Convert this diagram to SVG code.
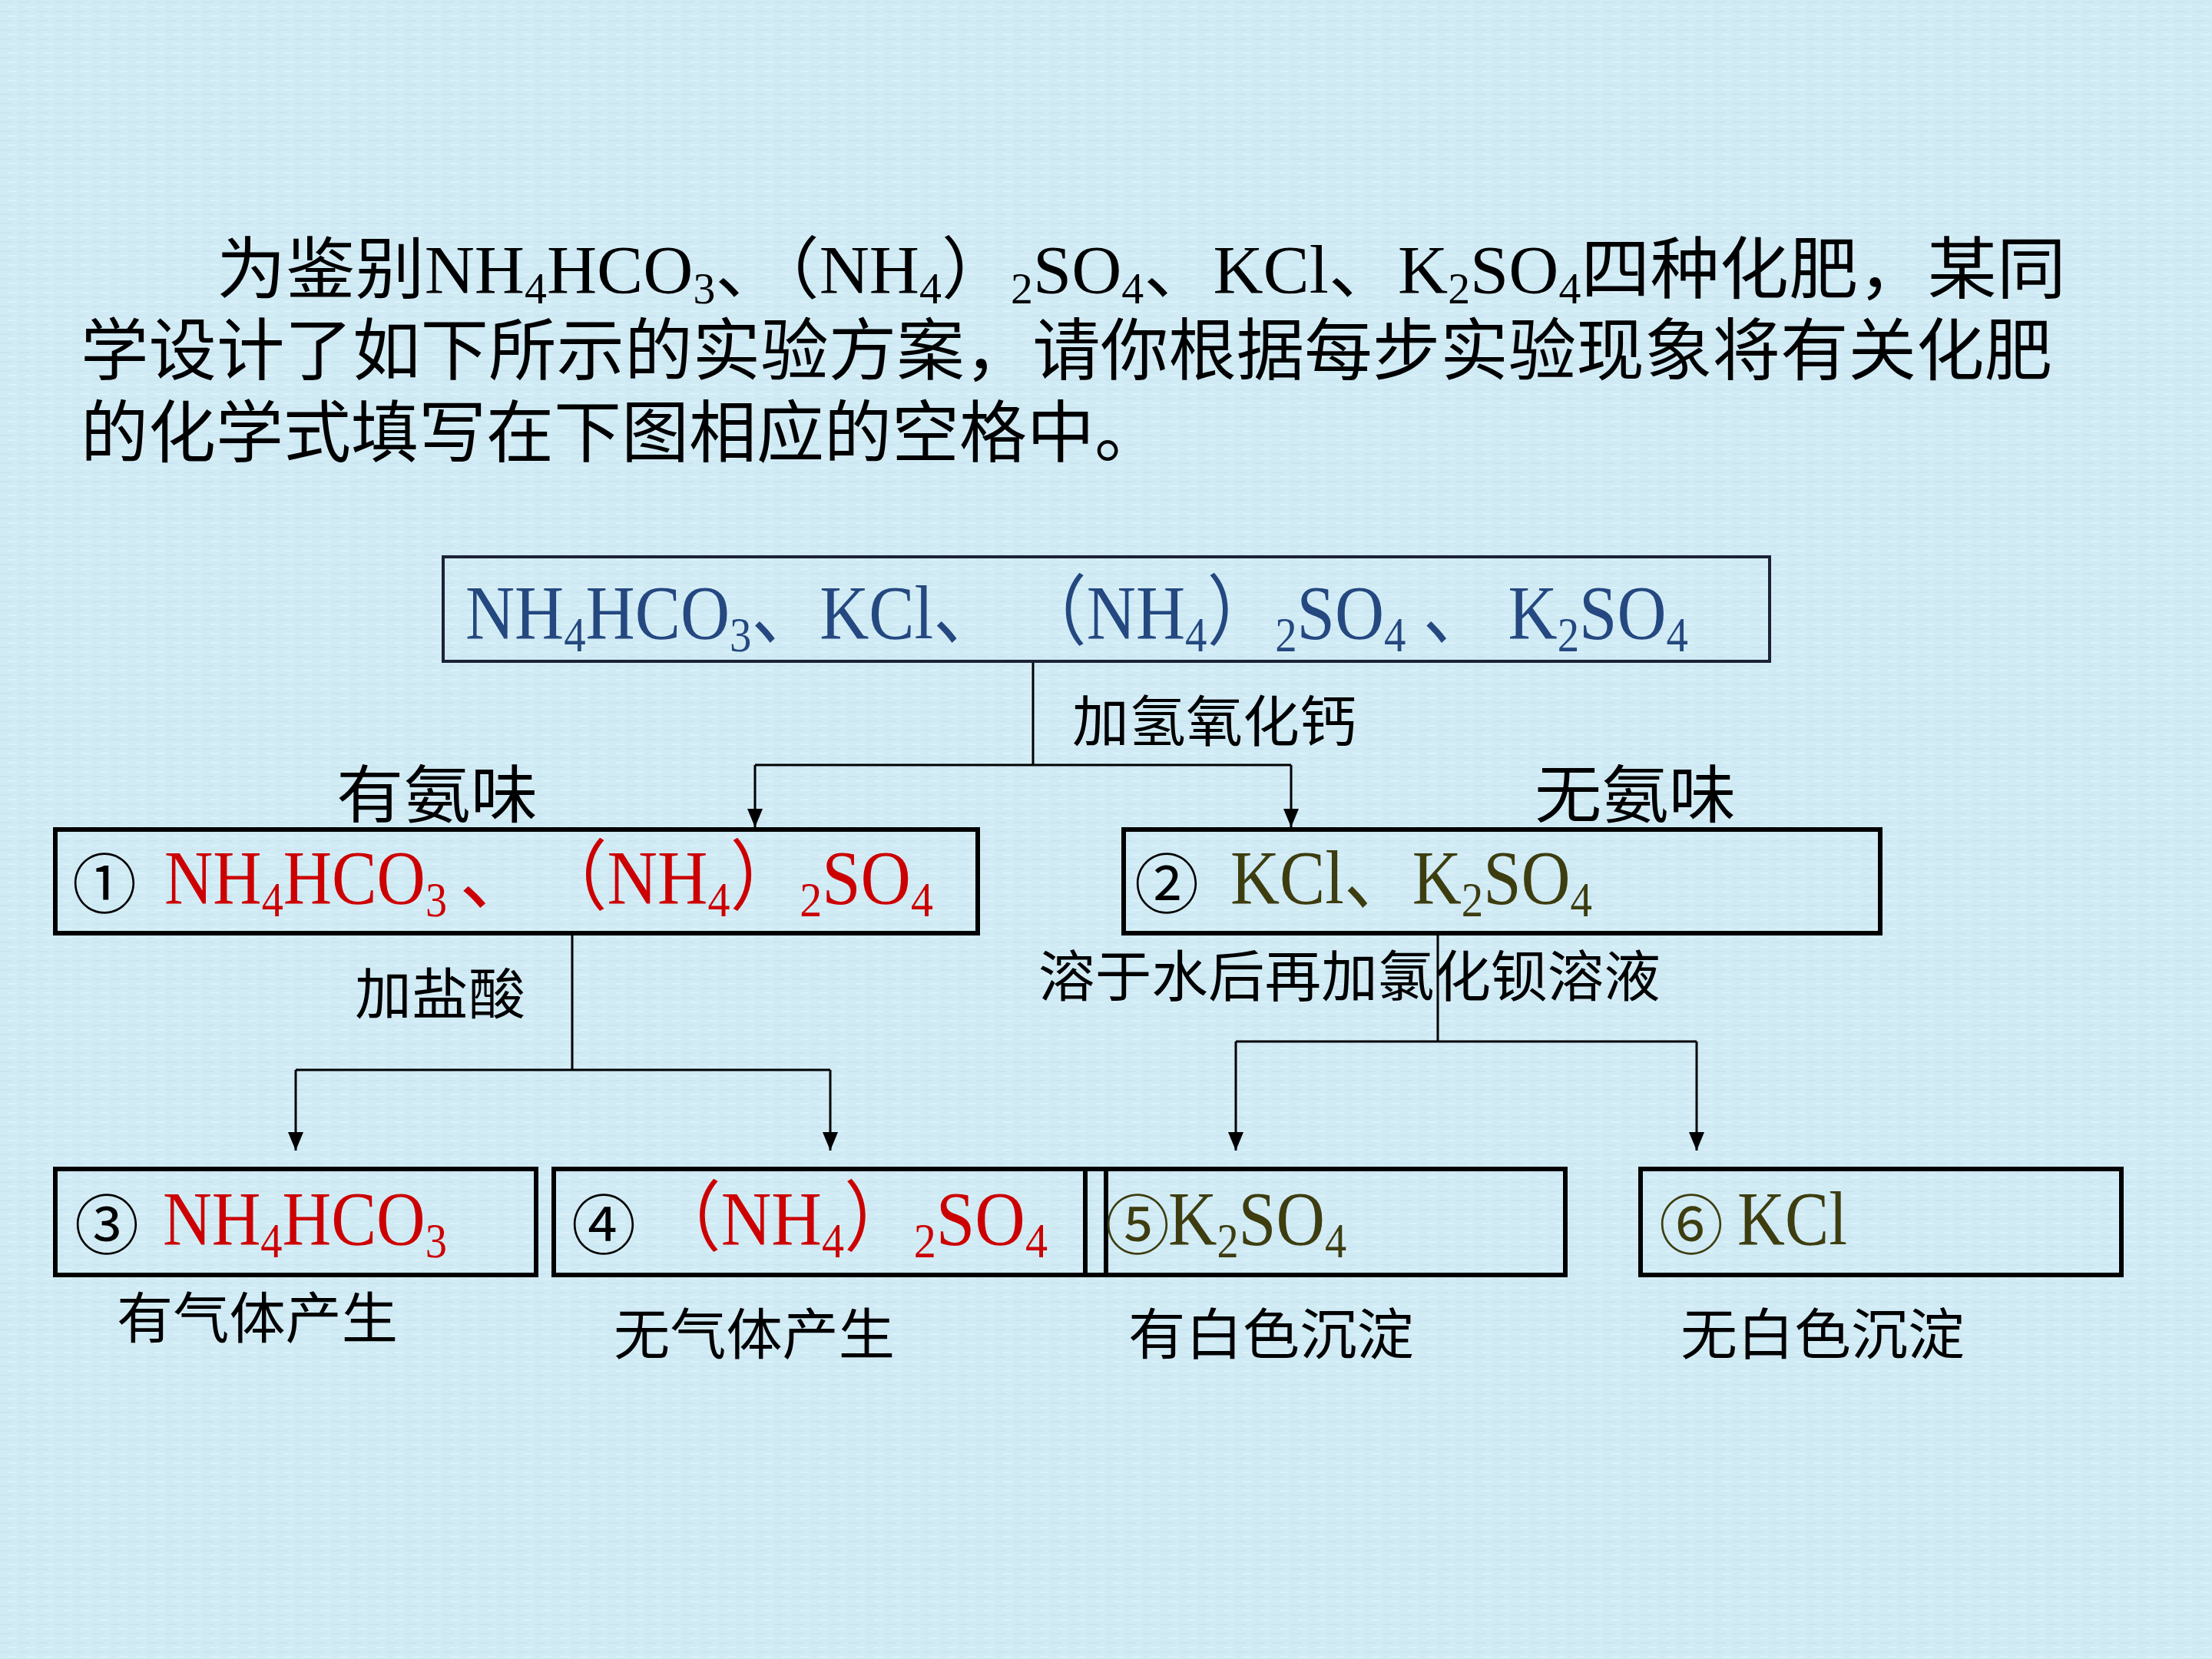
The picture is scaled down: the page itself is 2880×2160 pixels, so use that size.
<svg xmlns="http://www.w3.org/2000/svg" width="2880" height="2160" viewBox="0 0 2880 2160">
  <defs>
    <pattern id="tex" width="24" height="12" patternUnits="userSpaceOnUse">
      <rect width="24" height="12" fill="#D1EBF5"/>
      <rect x="0" y="2" width="14" height="2" fill="#C4E1EE" opacity="0.6"/>
      <rect x="10" y="8" width="12" height="2" fill="#DCF2FA" opacity="0.8"/>
    </pattern>
    <marker id="arr" viewBox="0 0 24 20" refX="24" refY="10" markerWidth="24" markerHeight="20" markerUnits="userSpaceOnUse" orient="auto">
      <path d="M0,0 L24,10 L0,20 z" fill="#000"/>
    </marker>
  </defs>
  <style>
    text { font-family: "Liberation Serif", "Noto Sans CJK SC", serif; }
    .intro { font-size: 88px; fill: #000; }
    .lbl { font-size: 72px; fill: #000; }
    .big { font-size: 82px; fill: #000; }
    .f { font-size: 100px; }
    .navy { fill: #24487F; }
    .red { fill: #CC0000; }
    .olive { fill: #3D3D10; }
    .circ { font-size: 84px; font-family: "Noto Sans CJK SC", "DejaVu Sans", sans-serif; }
    .box { fill: none; stroke: #000; stroke-width: 6; }
    .box0 { fill: none; stroke: #1B2236; stroke-width: 4; }
    .ln { fill: none; stroke: #000; stroke-width: 3; }
    .s { font-size: 64%; }
  </style>
  <rect width="2880" height="2160" fill="url(#tex)"/>

  <g id="intro">
    <text class="intro" x="282" y="381" textLength="2408" lengthAdjust="spacingAndGlyphs">为鉴别NH<tspan class="s" dy="14">4</tspan><tspan dy="-14">HCO</tspan><tspan class="s" dy="14">3</tspan><tspan dy="-14">、（NH</tspan><tspan class="s" dy="14">4</tspan><tspan dy="-14">）</tspan><tspan class="s" dy="14">2</tspan><tspan dy="-14">SO</tspan><tspan class="s" dy="14">4</tspan><tspan dy="-14">、KCl、K</tspan><tspan class="s" dy="14">2</tspan><tspan dy="-14">SO</tspan><tspan class="s" dy="14">4</tspan><tspan dy="-14">四种化肥，某同</tspan></text>
    <text class="intro" x="105" y="487" textLength="2567" lengthAdjust="spacingAndGlyphs">学设计了如下所示的实验方案，请你根据每步实验现象将有关化肥</text>
    <text class="intro" x="105" y="594">的化学式填写在下图相应的空格中。</text>
  </g>

  <g id="connectors">
    <path class="ln" d="M1345,861 V996 M983,996 H1681"/>
    <path class="ln" d="M983,996 V1077" marker-end="url(#arr)"/>
    <path class="ln" d="M1681,996 V1077" marker-end="url(#arr)"/>
    <path class="ln" d="M745,1215 V1393 M385,1393 H1081"/>
    <path class="ln" d="M385,1393 V1498" marker-end="url(#arr)"/>
    <path class="ln" d="M1081,1393 V1498" marker-end="url(#arr)"/>
    <path class="ln" d="M1872,1215 V1356 M1609,1356 H2209"/>
    <path class="ln" d="M1609,1356 V1498" marker-end="url(#arr)"/>
    <path class="ln" d="M2209,1356 V1498" marker-end="url(#arr)"/>
  </g>

  <g id="node-top">
    <rect class="box0" x="577" y="725" width="1727" height="136"/>
    <text class="f navy" x="606" y="831" textLength="1592" lengthAdjust="spacingAndGlyphs">NH<tspan class="s" dy="17">4</tspan><tspan dy="-17">HCO</tspan><tspan class="s" dy="17">3</tspan><tspan dy="-17">、KCl、 （NH</tspan><tspan class="s" dy="17">4</tspan><tspan dy="-17">）</tspan><tspan class="s" dy="17">2</tspan><tspan dy="-17">SO</tspan><tspan class="s" dy="17">4</tspan><tspan dy="-17"> 、 K</tspan><tspan class="s" dy="17">2</tspan><tspan dy="-17">SO</tspan><tspan class="s" dy="17">4</tspan></text>
  </g>

  <g id="label-ca">
    <text class="lbl" x="1396" y="965" textLength="370" lengthAdjust="spacingAndGlyphs">加氢氧化钙</text>
  </g>
  <g id="label-smell-yes">
    <text class="big" x="438" y="1064" textLength="262" lengthAdjust="spacingAndGlyphs">有氨味</text>
  </g>
  <g id="label-smell-no">
    <text class="big" x="1998" y="1064" textLength="262" lengthAdjust="spacingAndGlyphs">无氨味</text>
  </g>

  <g id="node-1">
    <rect class="box" x="72" y="1080" width="1201" height="135"/>
    <text class="circ" x="136" y="1182" text-anchor="middle" fill="#000">①</text>
    <text class="f red" x="214" y="1176" textLength="368" lengthAdjust="spacingAndGlyphs">NH<tspan class="s" dy="17">4</tspan><tspan dy="-17">HCO</tspan><tspan class="s" dy="17">3</tspan></text>
    <text class="f red" x="598" y="1176">、</text>
    <text class="f red" x="700" y="1176" textLength="515" lengthAdjust="spacingAndGlyphs">（NH<tspan class="s" dy="17">4</tspan><tspan dy="-17">）</tspan><tspan class="s" dy="17">2</tspan><tspan dy="-17">SO</tspan><tspan class="s" dy="17">4</tspan></text>
  </g>

  <g id="node-2">
    <rect class="box" x="1463" y="1080" width="985" height="135"/>
    <text class="circ" x="1519" y="1182" text-anchor="middle" fill="#000">②</text>
    <text class="f olive" x="1602" y="1176" textLength="471" lengthAdjust="spacingAndGlyphs">KCl、K<tspan class="s" dy="17">2</tspan><tspan dy="-17">SO</tspan><tspan class="s" dy="17">4</tspan></text>
  </g>

  <g id="label-hcl">
    <text class="lbl" x="462" y="1320" textLength="222" lengthAdjust="spacingAndGlyphs">加盐酸</text>
  </g>
  <g id="label-bacl2">
    <text class="lbl" x="1352" y="1297" textLength="810" lengthAdjust="spacingAndGlyphs">溶于水后再加氯化钡溶液</text>
  </g>

  <g id="node-3">
    <rect class="box" x="72" y="1522" width="626" height="138"/>
    <text class="circ" x="139" y="1626" text-anchor="middle" fill="#000">③</text>
    <text class="f red" x="212" y="1620" textLength="370" lengthAdjust="spacingAndGlyphs">NH<tspan class="s" dy="17">4</tspan><tspan dy="-17">HCO</tspan><tspan class="s" dy="17">3</tspan></text>
  </g>
  <g id="node-4">
    <rect class="box" x="721" y="1522" width="719" height="138"/>
    <text class="circ" x="786" y="1626" text-anchor="middle" fill="#000">④</text>
    <text class="f red" x="848" y="1620" textLength="516" lengthAdjust="spacingAndGlyphs">（NH<tspan class="s" dy="17">4</tspan><tspan dy="-17">）</tspan><tspan class="s" dy="17">2</tspan><tspan dy="-17">SO</tspan><tspan class="s" dy="17">4</tspan></text>
  </g>
  <g id="node-5">
    <rect class="box" x="1413" y="1522" width="625" height="138"/>
    <text class="circ olive" x="1481" y="1626" text-anchor="middle">⑤</text>
    <text class="f olive" x="1521" y="1620" textLength="232" lengthAdjust="spacingAndGlyphs">K<tspan class="s" dy="17">2</tspan><tspan dy="-17">SO</tspan><tspan class="s" dy="17">4</tspan></text>
  </g>
  <g id="node-6">
    <rect class="box" x="2136" y="1522" width="626" height="138"/>
    <text class="circ olive" x="2202" y="1626" text-anchor="middle">⑥</text>
    <text class="f olive" x="2262" y="1620" textLength="143" lengthAdjust="spacingAndGlyphs">KCl</text>
  </g>

  <g id="results">
    <text class="lbl" x="152" y="1742" textLength="366" lengthAdjust="spacingAndGlyphs">有气体产生</text>
    <text class="lbl" x="799" y="1763" textLength="366" lengthAdjust="spacingAndGlyphs">无气体产生</text>
    <text class="lbl" x="1469" y="1763" textLength="372" lengthAdjust="spacingAndGlyphs">有白色沉淀</text>
    <text class="lbl" x="2188" y="1763" textLength="370" lengthAdjust="spacingAndGlyphs">无白色沉淀</text>
  </g>
</svg>
